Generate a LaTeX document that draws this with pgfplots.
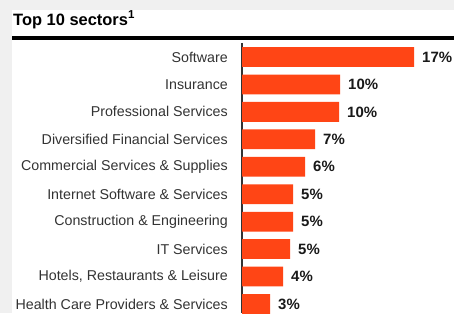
\documentclass[border=0pt]{standalone}
\usepackage{fontspec}
\setmainfont{Liberation Sans}
\usepackage{pgfplots}
\pgfplotsset{compat=1.18}
\definecolor{barred}{HTML}{FF4515}
\definecolor{bggray}{HTML}{F0F0F0}
\definecolor{labgray}{HTML}{333333}
\begin{document}
\begin{tikzpicture}[x=1bp,y=1bp]
\useasboundingbox (0,0) rectangle (454,313);
\clip (0,0) rectangle (454,313);
\fill[bggray] (0,0) rectangle (454,313);
\fill[white] (12,0) rectangle (454,303);
\fill[black] (12,273) rectangle (454,277);
\node[anchor=base west, inner sep=0, font=\bfseries\fontsize{16.5}{18}\selectfont] at (13,288) {Top 10 sectors\textsuperscript{1}};
\begin{axis}[
  at={(242bp,0bp)}, anchor=south west,
  scale only axis, width=212bp, height=270bp,
  xbar, bar width=0.72, bar shift=0pt,
  xmin=0, xmax=21.2, ymin=-0.51, ymax=9.33, y dir=reverse,
  axis x line=none, axis y line*=left,
  axis line style={draw=labgray, line width=1.5bp},
  xtick=\empty,
  ytick={0,...,9},
  yticklabels={Software, Insurance, Professional Services, Diversified Financial Services, Commercial Services \& Supplies, Internet Software \& Services, Construction \& Engineering, IT Services, {Hotels, Restaurants \& Leisure}, Health Care Providers \& Services},
  major tick length=0pt,
  y tick label style={font=\fontsize{14.3}{16}\selectfont, text=labgray, anchor=east, inner sep=0pt, xshift=-14bp},
  clip=false,
  point meta=x,
  nodes near coords={\pgfmathprintnumber[fixed,precision=0,assume math mode=true]{\pgfplotspointmeta}\%},
  nodes near coords style={anchor=west, inner sep=0pt, xshift=8bp, font=\bfseries\fontsize{15}{16}\selectfont, text=black!90},
]
\addplot[fill=barred, draw=none] coordinates {
(17.2,0) (9.8,1) (9.7,2) (7.3,3) (6.3,4) (5.1,5) (5.1,6) (4.8,7) (4.1,8) (2.8,9)
};
\end{axis}
\end{tikzpicture}
\end{document}
